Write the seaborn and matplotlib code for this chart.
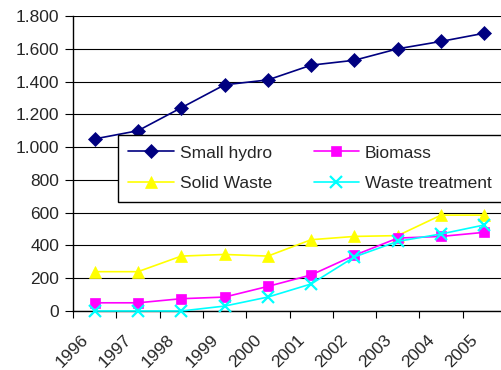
import matplotlib
matplotlib.use("Agg")
import numpy as np
import pandas as pd
import seaborn as sns
import matplotlib.pyplot as plt
import matplotlib.transforms as mtransforms
from matplotlib.lines import Line2D
from matplotlib.ticker import FuncFormatter, FixedLocator

# Installed capacity by source, 1996-2005
years = ["1996", "1997", "1998", "1999", "2000", "2001", "2002", "2003", "2004", "2005"]
small_hydro = [1050, 1100, 1240, 1380, 1410, 1500, 1530, 1600, 1645, 1695]
biomass = [50, 50, 75, 85, 150, 220, 340, 445, 455, 480]
solid_waste = [240, 240, 335, 345, 335, 435, 455, 460, 585, 585]
waste_treatment = [0, 0, 0, 30, 85, 165, 330, 425, 470, 525]

series = {
    "Small hydro": small_hydro,
    "Solid Waste": solid_waste,
    "Biomass": biomass,
    "Waste treatment": waste_treatment,
}
styles = {
    "Small hydro": dict(color="#000080", marker="D", markersize=7),
    "Solid Waste": dict(color="#FFFF00", marker="^", markersize=8.5),
    "Biomass": dict(color="#FF00FF", marker="s", markersize=7),
    "Waste treatment": dict(color="#00FFFF", marker="x", markersize=8, markeredgewidth=1.6),
}

rows = []
for name, vals in series.items():
    for i, v in enumerate(vals):
        rows.append({"pos": i, "year": years[i], "series": name, "value": v})
df = pd.DataFrame(rows)

sns.set_style("white")
plt.rcParams["font.family"] = ["Liberation Sans", "DejaVu Sans"]

W, H = 502, 370
fig = plt.figure(figsize=(W / 100, H / 100), dpi=100)
x0, x1, ytop, ybot = 73, 506, 16, 311
ax = fig.add_axes([x0 / W, 1 - ybot / H, (x1 - x0) / W, (ybot - ytop) / H])

draw_order = ["Solid Waste", "Biomass", "Waste treatment", "Small hydro"]
for name in draw_order:
    st = styles[name]
    sub = df[df["series"] == name]
    sns.lineplot(data=sub, x="pos", y="value", ax=ax, color=st["color"],
                 marker=st["marker"], markersize=st["markersize"],
                 markeredgewidth=st.get("markeredgewidth", 0.5),
                 markeredgecolor=st["color"], linewidth=1.2,
                 label=name, legend=False, zorder=3, clip_on=False)

ax.set_xlim(-0.5, len(years) - 0.5)
ax.set_ylim(0, 1800)
ax.set_xlabel("")
ax.set_ylabel("")

# y axis: thousands separator with a dot
ax.yaxis.set_major_locator(FixedLocator(np.arange(0, 1801, 200)))
ax.yaxis.set_major_formatter(FuncFormatter(lambda v, p: f"{int(v):,}".replace(",", ".")))
ax.grid(axis="y", color="black", linewidth=0.8)
ax.grid(axis="x", visible=False)

# x axis: ticks on category boundaries, labels at category centres
ax.set_xticks(np.arange(len(years)))
ax.set_xticklabels(years)
ax.set_xticks(np.arange(-0.5, len(years), 1.0), minor=True)
ax.tick_params(axis="x", which="major", length=0, pad=19, labelsize=12.5)
ax.tick_params(axis="x", which="minor", length=5, width=0.8, direction="out",
               color="black", bottom=True)
ax.tick_params(axis="y", length=6, width=0.8, direction="out", color="black",
               left=True, pad=4, labelsize=12.5)
offset = mtransforms.ScaledTranslation(-9 / 100, 0, fig.dpi_scale_trans)
for lab in ax.get_xticklabels():
    lab.set_rotation(45)
    lab.set_ha("right")
    lab.set_va("center")
    lab.set_rotation_mode("anchor")
    lab.set_transform(lab.get_transform() + offset)

for side in ["top", "right"]:
    ax.spines[side].set_visible(False)
for side in ["left", "bottom"]:
    ax.spines[side].set_color("black")
    ax.spines[side].set_linewidth(1.0)

# legend in two columns
order = ["Small hydro", "Solid Waste", "Biomass", "Waste treatment"]
handles = []
for name in order:
    st = styles[name]
    handles.append(Line2D([], [], color=st["color"], marker=st["marker"],
                          markersize=st["markersize"],
                          markeredgewidth=st.get("markeredgewidth", 0.5),
                          markeredgecolor=st["color"], linewidth=1.2))
leg = fig.legend(handles, order, ncol=2, loc="upper left",
                 bbox_to_anchor=(118 / W, 1 - 135 / H),
                 bbox_transform=fig.transFigure, borderaxespad=0,
                 fontsize=12.5, frameon=True, fancybox=False, shadow=False,
                 framealpha=1, edgecolor="black", handlelength=2.6,
                 handletextpad=0.35, columnspacing=2.4, borderpad=0.6,
                 labelspacing=0.9)
leg.get_frame().set_linewidth(1.0)
leg.set_zorder(10)

fig.savefig("out.png", dpi=100)
